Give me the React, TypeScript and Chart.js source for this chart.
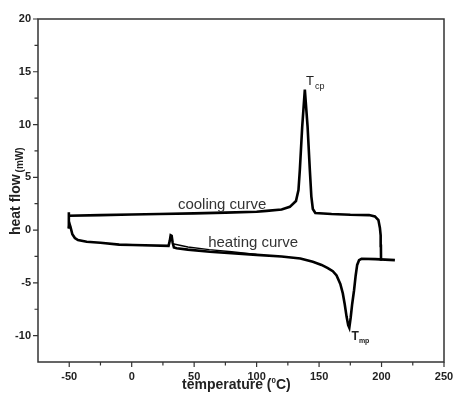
import React, { useEffect, useRef } from "react";
import { Chart, registerables } from "chart.js";

Chart.register(...registerables);

// Cooling curve (traced from the 200 °C start back to -50 °C)
const coolingT = [199.6, 199.5, 199.3, 198.7, 197.5, 194.7, 190, 175, 160, 147, 145, 143.8, 142.6, 140.8, 138.6, 136.5, 134.6, 133.5, 131.5, 126.6, 120, 108, 100, 75, 50, 22, 0, -25, -50.3, -50.3, -50.3];
const coolingHF = [-2.9, -1.5, -0.5, 0.2, 0.95, 1.3, 1.42, 1.45, 1.52, 1.62, 2.0, 3.2, 5.7, 9.8, 13.3, 9.8, 5.7, 3.8, 2.75, 2.2, 1.95, 1.82, 1.74, 1.65, 1.58, 1.52, 1.47, 1.42, 1.36, 1.68, 0.15];

// Heating curve (from -50 °C to 210 °C)
const heatingT = [-50.3, -49.8, -49, -47.5, -45.5, -43, -36, -25, -10, 1, 29.5, 30.5, 31.2, 32, 32.8, 33.8, 36, 45, 62.5, 80, 100, 120, 135, 145, 152, 157, 161, 164, 167, 169, 170.5, 172, 173.3, 174.2, 175.3, 176.5, 178, 179.3, 180.5, 182, 184, 195, 210.7];
const heatingHF = [0.15, 0.6, 0.3, -0.4, -0.75, -0.95, -1.1, -1.2, -1.38, -1.42, -1.5, -1.0, -0.5, -0.55, -1.2, -1.65, -1.72, -1.85, -2.05, -2.2, -2.35, -2.5, -2.7, -3.0, -3.3, -3.6, -3.9, -4.3, -5.1, -6.0, -7.0, -8.2, -9.0, -9.25, -8.3, -7.0, -5.7, -4.3, -3.3, -2.85, -2.72, -2.75, -2.85];

// Second thin trace right after the small heating spike
const traceT = [32.8, 45, 62, 80, 100];
const traceHF = [-1.3, -1.6, -1.85, -2.05, -2.3];

// Axes
const xMin = -75;
const xMax = 250;
const yMin = -12.5;
const yMax = 20;
const xMajorTicks = [-50, 0, 50, 100, 150, 200, 250];
const xMinorTicks = [-25, 25, 75, 125, 175, 225];
const yMajorTicks = [-10, -5, 0, 5, 10, 15, 20];
const yMinorTicks = [-7.5, -2.5, 2.5, 7.5, 12.5, 17.5];

const xTitle = "temperature (";
const xTitleSup = "0";
const xTitleEnd = "C)";
const yTitle = "heat flow";
const yTitleUnit = "(mW)";
const coolingLabel = "cooling curve";
const heatingLabel = "heating curve";

const toPts = (xs: number[], ys: number[]) => xs.map((x, i) => ({ x, y: ys[i] }));

const FONT = "'Liberation Sans', Arial, sans-serif";

const decorPlugin = {
  id: "decor",
  afterDraw(chart: any) {
    const { ctx, chartArea: a, scales } = chart;
    const xs = scales.x;
    const ys = scales.y;
    ctx.save();
    // frame
    ctx.strokeStyle = "#333";
    ctx.lineWidth = 1.5;
    ctx.strokeRect(a.left, a.top, a.right - a.left, a.bottom - a.top);
    // ticks
    ctx.lineWidth = 1.2;
    ctx.beginPath();
    xMajorTicks.forEach((v) => {
      const px = xs.getPixelForValue(v);
      ctx.moveTo(px, a.bottom);
      ctx.lineTo(px, a.bottom + 5);
    });
    xMinorTicks.forEach((v) => {
      const px = xs.getPixelForValue(v);
      ctx.moveTo(px, a.bottom);
      ctx.lineTo(px, a.bottom + 3.5);
    });
    yMajorTicks.forEach((v) => {
      const py = ys.getPixelForValue(v);
      ctx.moveTo(a.left, py);
      ctx.lineTo(a.left - 5, py);
    });
    yMinorTicks.forEach((v) => {
      const py = ys.getPixelForValue(v);
      ctx.moveTo(a.left, py);
      ctx.lineTo(a.left - 3.5, py);
    });
    ctx.stroke();

    // curve labels
    ctx.fillStyle = "#333";
    ctx.textBaseline = "alphabetic";
    ctx.textAlign = "left";
    ctx.font = `15px ${FONT}`;
    ctx.fillText(coolingLabel, xs.getPixelForValue(37), ys.getPixelForValue(1.95));
    ctx.fillText(heatingLabel, xs.getPixelForValue(61.2), ys.getPixelForValue(-1.6));

    // T_cp
    ctx.fillStyle = "#222";
    ctx.font = `13px ${FONT}`;
    const tcpX = xs.getPixelForValue(139.6);
    const tcpY = ys.getPixelForValue(13.77);
    ctx.fillText("T", tcpX, tcpY);
    const tcw = ctx.measureText("T").width;
    ctx.font = `9px ${FONT}`;
    ctx.fillText("cp", tcpX + tcw + 1, tcpY + 4.5);

    // T_mp
    ctx.font = `bold 12px ${FONT}`;
    const tmpX = xs.getPixelForValue(176);
    const tmpY = ys.getPixelForValue(-10.45);
    ctx.fillText("T", tmpX, tmpY);
    const tw = ctx.measureText("T").width;
    ctx.font = `bold 7px ${FONT}`;
    ctx.fillText("mp", tmpX + tw, tmpY + 3);

    // x title
    ctx.fillStyle = "#222";
    ctx.font = `bold 14px ${FONT}`;
    let tx = 182;
    const tyb = 389;
    ctx.fillText(xTitle, tx, tyb);
    tx += ctx.measureText(xTitle).width;
    ctx.font = `bold 8px ${FONT}`;
    ctx.fillText(xTitleSup, tx, tyb - 6);
    tx += ctx.measureText(xTitleSup).width;
    ctx.font = `bold 14px ${FONT}`;
    ctx.fillText(xTitleEnd, tx, tyb);

    // y title
    ctx.save();
    ctx.translate(19.5, 235);
    ctx.rotate(-Math.PI / 2);
    ctx.font = `bold 14px ${FONT}`;
    ctx.fillText(yTitle, 0, 0);
    const yw = ctx.measureText(yTitle + " ").width;
    ctx.font = `bold 10px ${FONT}`;
    ctx.fillText(yTitleUnit, yw - 2, 3.5);
    ctx.restore();

    ctx.restore();
  },
};

export default function App() {
  const ref = useRef<HTMLCanvasElement | null>(null);
  useEffect(() => {
    if (!ref.current) return;
    const lineDs = (data: any, w: number) => ({
      data,
      showLine: true,
      borderColor: "#000",
      borderWidth: w,
      pointRadius: 0,
      tension: 0,
      fill: false,
    });
    const chart = new Chart(ref.current, {
      type: "scatter",
      data: {
        datasets: [
          lineDs(toPts(coolingT, coolingHF), 2.6),
          lineDs(toPts(heatingT, heatingHF), 2.6),
          lineDs(toPts(traceT, traceHF), 1.4),
        ],
      },
      options: {
        responsive: false,
        animation: false,
        events: [],
        layout: { padding: { top: 19, right: 10, left: 0, bottom: 0 } },
        plugins: { legend: { display: false }, tooltip: { enabled: false } },
        scales: {
          x: {
            type: "linear",
            min: xMin,
            max: xMax,
            grid: { display: false, drawTicks: false },
            border: { display: false },
            afterBuildTicks: (s: any) => {
              s.ticks = xMajorTicks.map((v) => ({ value: v }));
            },
            afterFit: (s: any) => {
              s.height = 32;
              s.paddingLeft = 0;
              s.paddingRight = 0;
            },
            ticks: {
              padding: 8,
              color: "#222",
              font: { family: FONT, size: 11, weight: "bold" },
              maxRotation: 0,
              autoSkip: false,
            },
          },
          y: {
            type: "linear",
            min: yMin,
            max: yMax,
            grid: { display: false, drawTicks: false },
            border: { display: false },
            afterBuildTicks: (s: any) => {
              s.ticks = yMajorTicks.map((v) => ({ value: v }));
            },
            afterFit: (s: any) => {
              s.width = 38;
              s.paddingTop = 0;
              s.paddingBottom = 0;
            },
            ticks: {
              padding: 7,
              color: "#222",
              font: { family: FONT, size: 11, weight: "bold" },
              autoSkip: false,
            },
          },
        },
      },
      plugins: [decorPlugin],
    });
    return () => chart.destroy();
  }, []);
  return (
    <div style={{ position: "absolute", left: 0, top: 0, width: 454, height: 394, background: "#fff" }}>
      <canvas ref={ref} width={454} height={394} />
    </div>
  );
}
